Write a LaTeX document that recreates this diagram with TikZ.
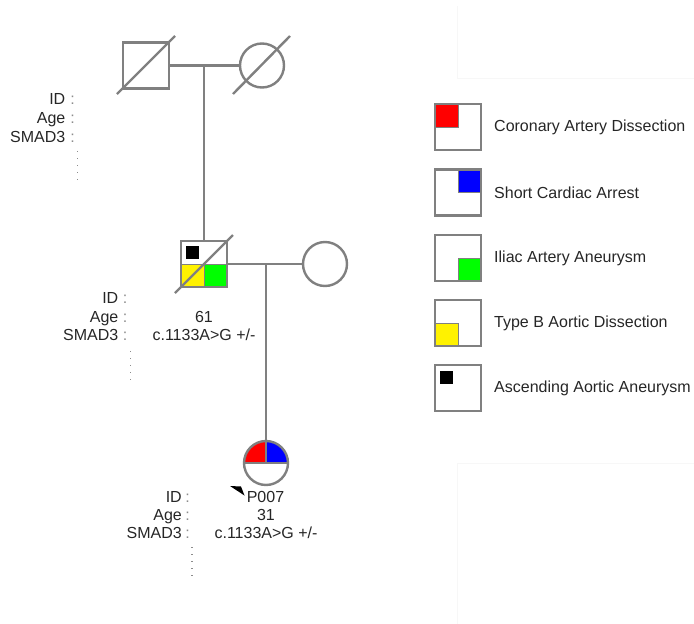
\documentclass[tikz,border=0pt]{standalone}
\usepackage{fontspec}
\setmainfont{Liberation Sans}
\definecolor{linegray}{HTML}{808080}
\definecolor{txt}{HTML}{262626}
\definecolor{dotgray}{HTML}{8C8C8C}
\definecolor{faint}{HTML}{F7F7F7}
\begin{document}
\begin{tikzpicture}[x=1pt,y=-1pt,
  conn/.style={draw=linegray,line width=2.4pt},
  male/.style={rectangle,draw=linegray,line width=2.4pt,minimum size=46pt,inner sep=0pt},
  female/.style={circle,draw=linegray,line width=2.4pt,minimum size=44pt,inner sep=0pt},
  deceased/.style={draw=linegray,line width=2.4pt},
  quad/.style={draw=linegray,line width=0.8pt},
  lbl/.style={anchor=base east,inner sep=0pt,font=\fontsize{16}{18}\selectfont,text=txt},
  colon/.style={anchor=base,inner sep=0pt,font=\fontsize{16}{18}\selectfont,text=dotgray},
  val/.style={anchor=base,inner sep=0pt,font=\fontsize{16}{18}\selectfont,text=txt},
  legtxt/.style={anchor=west,inner sep=0pt,font=\fontsize{16}{18}\selectfont,text=txt},
  dots/.style={draw=dotgray,line width=1.2pt,dash pattern=on 1.2pt off 5.8pt},
  legbox/.style={rectangle,draw=linegray,line width=2.4pt,minimum size=46pt,inner sep=0pt}
]
\useasboundingbox (0,0) rectangle (694,624);
% faint frame lines
\draw[faint,line width=1pt] (457.5,6) -- (457.5,78) -- (694,78);
\draw[faint,line width=1pt] (694,463) -- (457.5,463) -- (457.5,624);

% ---------- generation I ----------
\node[male] (gf) at (146,65.5) {};
\node[female] (gm) at (262,65.5) {};
\draw[deceased] (117,94) -- (175,36);
\draw[deceased] (233,94) -- (290,36);
\draw[conn] (gf.east) -- (gm.west);
\coordinate (m1) at (204,65.5);

% ---------- generation II ----------
\fill[black] (186,246) rectangle (199,259);
\filldraw[quad,fill=yellow] (181,264) rectangle (204,287);
\filldraw[quad,fill=green] (204,264) rectangle (227,287);
\node[male] (fa) at (204,264) {};
\draw[deceased] (175,293) -- (233,235);
\node[female] (mo) at (325,264) {};
\draw[conn] (m1) -- (fa.north);
\draw[conn] (fa.east) -- (mo.west);
\coordinate (m2) at (266,264);

% ---------- generation III ----------
\begin{scope}
  \clip (266,463) circle[radius=22pt];
  \fill[red] (244,441) rectangle (266,463);
  \fill[blue] (266,441) rectangle (288,463);
\end{scope}
\node[female] (ch) at (266,463) {};
\draw[conn] (m2) -- (ch.center);
\draw[conn] (ch.west) -- (ch.east);
\fill[black] (230,486) -- (241,486.5) -- (244.5,495.5) -- cycle;

% ---------- labels ----------
% top
\node[lbl] (l1a) at (65.5,104.5) {ID};
\node[colon] (c1a) at (72.5,104.5) {:};
\node[lbl] (l1b) at (65.5,123.2) {Age};
\node[colon] (c1b) at (72.5,123.2) {:};
\node[lbl] (l1c) at (65.5,142) {SMAD3};
\node[colon] (c1c) at (72.5,142) {:};
\draw[dots] (77.5,151) -- (77.5,181);
% middle
\node[lbl] (l2a) at (118.5,303.5) {ID};
\node[colon] (c2a) at (125,303.5) {:};
\node[lbl] (l2b) at (118.5,322.2) {Age};
\node[colon] (c2b) at (125,322.2) {:};
\node[lbl] (l2c) at (118.5,340.5) {SMAD3};
\node[colon] (c2c) at (125,340.5) {:};
\node[val] (v2b) at (204,322.2) {61};
\node[val] (v2c) at (204,340.5) {c.1133A>G +/-};
\draw[dots] (130.5,351) -- (130.5,381);
% child
\node[lbl] (l3a) at (182,502.5) {ID};
\node[colon] (c3a) at (187.5,502.5) {:};
\node[lbl] (l3b) at (182,520.5) {Age};
\node[colon] (c3b) at (187.5,520.5) {:};
\node[lbl] (l3c) at (182,538.5) {SMAD3};
\node[colon] (c3c) at (187.5,538.5) {:};
\node[val] (v3a) at (265.5,502.5) {P007};
\node[val] (v3b) at (266,520.5) {31};
\node[val] (v3c) at (266,538.5) {c.1133A>G +/-};
\draw[dots] (192,547) -- (192,580);

% ---------- legend ----------
\filldraw[quad,fill=red] (435,104) rectangle (458,127);
\node[legbox] (k1) at (458,127) {};
\node[legtxt] (t1) at (494,127) {Coronary Artery Dissection};
\filldraw[quad,fill=blue] (458,169) rectangle (481,192);
\node[legbox] (k2) at (458,192.3) {};
\node[legtxt] (t2) at (494,192.3) {Short Cardiac Arrest};
\filldraw[quad,fill=green] (458,258) rectangle (481,281);
\node[legbox] (k3) at (458,258) {};
\node[legtxt] (t3) at (494,258) {Iliac Artery Aneurysm};
\filldraw[quad,fill=yellow] (435,323) rectangle (458,346);
\node[legbox] (k4) at (458,323) {};
\node[legtxt] (t4) at (494,323) {Type B Aortic Dissection};
\fill[black] (439.5,371) rectangle (453,384);
\node[legbox] (k5) at (458,388) {};
\node[legtxt] (t5) at (494,388) {Ascending Aortic Aneurysm};
\end{tikzpicture}
\end{document}
